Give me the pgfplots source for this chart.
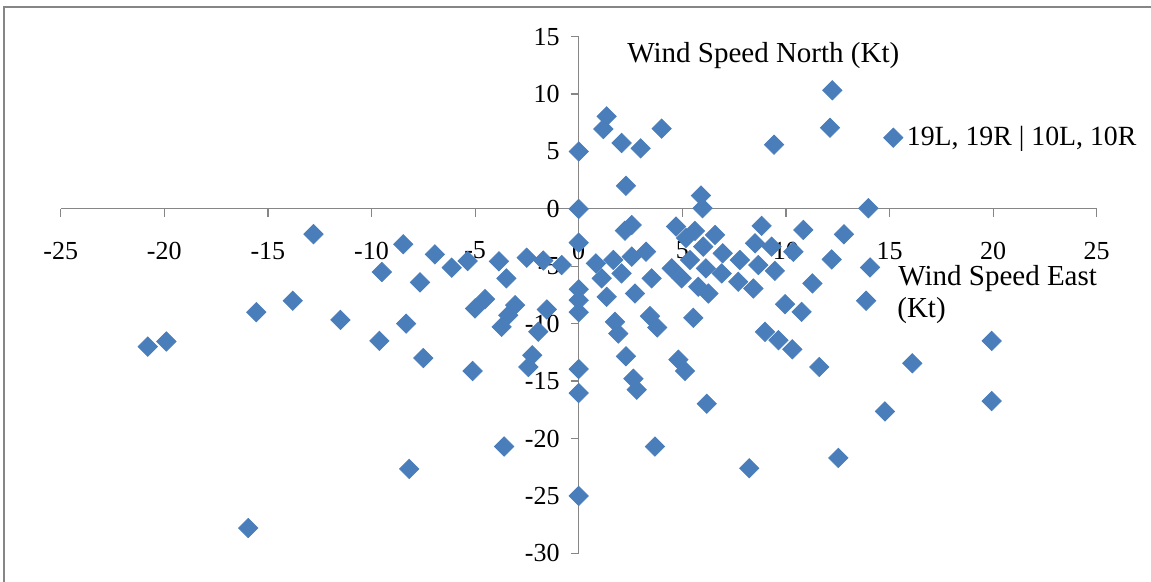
\documentclass[border=0pt]{standalone}
\usepackage{pgfplots}
\pgfplotsset{compat=1.18}
\usepackage{fontspec}
\setmainfont{Liberation Serif}
\definecolor{mk}{RGB}{74,126,187}
\definecolor{ax}{RGB}{134,134,134}
\begin{document}
\begin{tikzpicture}
\begin{axis}[
  scale only axis, width=518pt, height=258.3pt,
  xmin=-25, xmax=25, ymin=-30, ymax=15,
  axis lines=middle,
  axis line style={-, draw=ax, line width=0.6pt},
  hide obscured x ticks=false, hide obscured y ticks=false,
  xtick={-25,-20,...,25}, ytick={-30,-25,...,15},
  xticklabels={-25,-20,-15,-10,-5,0,5,10,15,20,25},
  yticklabels={-30,-25,-20,-15,-10,-5,0,5,10,15},
  tick align=outside, major tick length=4pt,
  tick style={draw=ax, line width=0.6pt},
  xticklabel style={font=\fontsize{13}{15}\selectfont, yshift=-9pt},
  yticklabel style={font=\fontsize{13}{15}\selectfont, xshift=-2pt},
  legend style={at={(0.794,0.8045)}, anchor=west, draw=none, fill=none,
    font=\fontsize{13.9}{16}\selectfont, inner sep=0pt},
  legend cell align=left,
]
\addplot[only marks, mark=square*, mark size=3.4pt,
  mark options={rotate=45, fill=mk, draw=mk}] table {
x y
-20.8 -12.0
-19.9 -11.55
-15.95 -27.8
-15.56 -9.0
-13.8 -8.0
-12.8 -2.2
-11.5 -9.67
-9.62 -11.5
-9.5 -5.5
-8.47 -3.08
-8.33 -9.99
-8.18 -22.65
-7.66 -6.4
-7.5 -12.99
-6.94 -3.96
-6.13 -5.12
-5.36 -4.54
-5.12 -14.12
-5.0 -8.67
-4.52 -7.86
-3.85 -4.57
-3.6 -20.7
-3.49 -6.05
-3.07 -8.38
-3.4 -9.26
-3.72 -10.28
-2.51 -4.25
-2.24 -12.75
-2.43 -13.77
-1.95 -10.7
-1.71 -4.5
-1.54 -8.76
-0.82 -4.89
0 5.0
0 0
0 -2.94
0 -7.0
0 -7.95
0 -9.0
0 -13.95
0 -16.04
0 -25.0
1.35 8.06
1.19 6.96
2.07 5.74
2.99 5.27
4.0 6.99
2.28 2.01
5.9 1.16
5.98 0.06
9.43 5.59
12.24 10.33
12.13 7.07
13.98 0.06
2.56 -1.4
2.23 -1.9
4.7 -1.54
5.61 -1.92
5.18 -2.53
6.58 -2.27
8.83 -1.48
8.51 -3.0
9.31 -3.29
6.01 -3.29
6.95 -3.87
7.78 -4.45
8.67 -4.89
9.47 -5.4
0.83 -4.75
1.11 -6.05
1.67 -4.45
2.07 -5.62
2.56 -4.16
3.25 -3.73
3.52 -6.05
4.49 -5.18
4.97 -6.05
5.37 -4.45
6.14 -5.18
6.9 -5.62
7.7 -6.35
8.43 -6.93
1.35 -7.66
2.72 -7.37
5.77 -6.78
6.26 -7.37
1.75 -9.84
1.91 -10.86
3.44 -9.34
3.79 -10.33
5.53 -9.49
8.99 -10.71
9.64 -11.44
10.31 -12.23
2.28 -12.84
2.64 -14.79
2.8 -15.75
4.81 -13.13
5.13 -14.12
6.18 -16.97
3.68 -20.7
8.23 -22.59
10.84 -1.83
12.8 -2.21
10.36 -3.73
12.21 -4.4
14.06 -5.1
11.28 -6.49
13.87 -8.0
9.96 -8.3
10.76 -8.97
11.61 -13.77
16.1 -13.45
19.93 -11.5
19.93 -16.74
14.78 -17.64
12.53 -21.69
};
\addlegendentry{19L, 19R | 10L, 10R}
\node[anchor=base west, inner sep=0pt, font=\fontsize{14.5}{17}\selectfont] at (axis cs:2.33,12.78) {Wind Speed North (Kt)};
\node[anchor=base west, inner sep=0pt, font=\fontsize{14.5}{17}\selectfont] at (axis cs:15.41,-6.64) {Wind Speed East};
\node[anchor=base west, inner sep=0pt, font=\fontsize{14.5}{17}\selectfont] at (axis cs:15.36,-9.49) {(Kt)};
\end{axis}
\draw[draw=ax, line width=1pt] (-28.35pt,-20pt) -- (-28.35pt,273.15pt) -- (550pt,273.15pt);
\pgfresetboundingbox
\path[use as bounding box] (-30.35pt,-14.35pt) rectangle (545.15pt,276.65pt);
\end{tikzpicture}
\end{document}
